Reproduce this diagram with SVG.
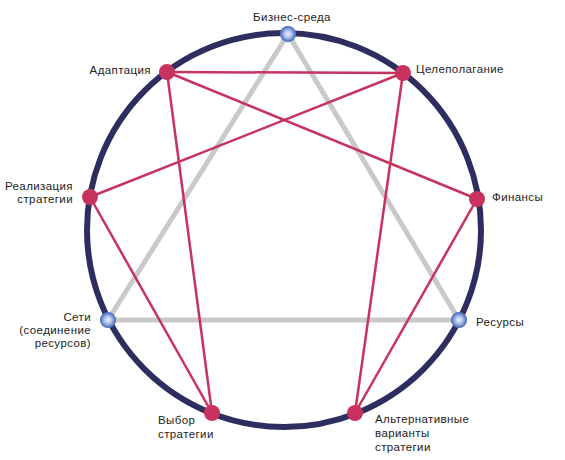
<svg xmlns="http://www.w3.org/2000/svg" width="565" height="460" viewBox="0 0 565 460">
<defs>
<radialGradient id="blueGrad" cx="50%" cy="50%" r="50%">
<stop offset="0" stop-color="#eef0fb"/>
<stop offset="0.45" stop-color="#b8c4ea"/>
<stop offset="0.8" stop-color="#6f8ed0"/>
<stop offset="1" stop-color="#4d6fb8"/>
</radialGradient>
<style>
.ring{fill:none;stroke:#2e2d60;stroke-width:6}
.tri{fill:none;stroke:#c9c9c9;stroke-width:5;stroke-linejoin:round}
.edge{stroke:#c8325f;stroke-width:2.5;fill:none}
.red{fill:#c8325f}
.blue{fill:url(#blueGrad);stroke:#5576bd;stroke-width:1.2}
text{font-family:"Liberation Sans",Arial,sans-serif;font-size:11.5px;letter-spacing:0.4px;fill:#222}
.r{text-anchor:end}
.m{text-anchor:middle}
</style>
</defs>
<rect width="565" height="460" fill="#fff"/>
<circle class="ring" cx="284" cy="230" r="197"/>
<g id="connectors">
<polygon class="tri" points="288,34 459,320 108,320"/>
<line class="edge" x1="167" y1="72" x2="403" y2="73"/>
<line class="edge" x1="167" y1="72" x2="477" y2="199"/>
<line class="edge" x1="167" y1="72" x2="212" y2="413"/>
<line class="edge" x1="403" y1="73" x2="90" y2="197"/>
<line class="edge" x1="403" y1="73" x2="355" y2="413"/>
<line class="edge" x1="477" y1="199" x2="355" y2="413"/>
<line class="edge" x1="90" y1="197" x2="212" y2="413"/>
</g>
<g id="n-business"><circle class="blue" cx="288" cy="34" r="7.5"/><text class="m" x="292" y="21">Бизнес-среда</text></g>
<g id="n-goal"><circle class="red" cx="403" cy="73" r="8"/><text x="416" y="73">Целеполагание</text></g>
<g id="n-finance"><circle class="red" cx="477" cy="199" r="8"/><text x="492" y="201">Финансы</text></g>
<g id="n-resources"><circle class="blue" cx="459" cy="320" r="7.5"/><text x="476" y="326">Ресурсы</text></g>
<g id="n-alternatives"><circle class="red" cx="355" cy="413" r="8"/><text x="375" y="423">Альтернативные</text><text x="375" y="437">варианты</text><text x="375" y="451">стратегии</text></g>
<g id="n-choice"><circle class="red" cx="212" cy="413" r="8"/><text x="158" y="424">Выбор</text><text x="158" y="438">стратегии</text></g>
<g id="n-networks"><circle class="blue" cx="108" cy="320" r="7.5"/><text class="r" x="91" y="321">Сети</text><text class="r" x="91" y="334">(соединение</text><text class="r" x="91" y="347">ресурсов)</text></g>
<g id="n-realization"><circle class="red" cx="90" cy="197" r="8"/><text class="r" x="73" y="190">Реализация</text><text class="r" x="73" y="203">стратегии</text></g>
<g id="n-adaptation"><circle class="red" cx="167" cy="72" r="8"/><text class="r" x="151" y="74">Адаптация</text></g>
</svg>
